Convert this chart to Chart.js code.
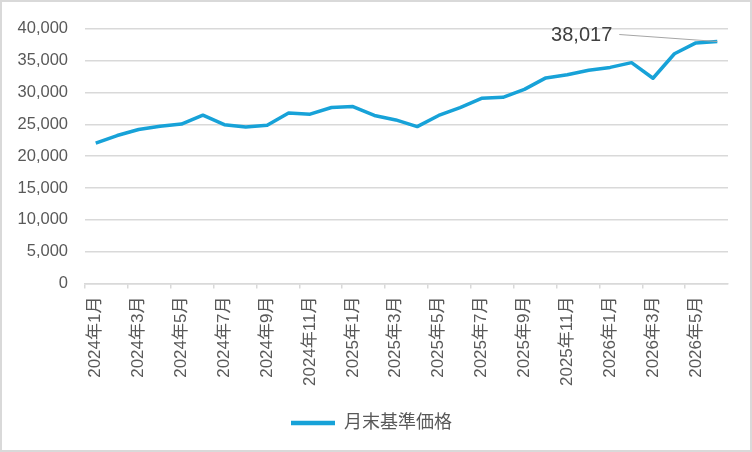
<!DOCTYPE html>
<html>
<head>
<meta charset="utf-8">
<script src="https://cdn.jsdelivr.net/npm/chart.js@4.4.1/dist/chart.umd.min.js"></script>
<style>
  html, body { margin: 0; padding: 0; background: #fff; }
  #wrap { width: 748px; height: 448px; border: 2px solid #d9d9d9; position: relative; }
</style>
</head>
<body>
<div id="wrap"><canvas id="price-chart"></canvas></div>
<script>
// 月末基準価格 (2024年1月 - 2026年6月)
const months = [
    '2024年1月', '2024年2月', '2024年3月', '2024年4月', '2024年5月', '2024年6月',
    '2024年7月', '2024年8月', '2024年9月', '2024年10月', '2024年11月', '2024年12月',
    '2025年1月', '2025年2月', '2025年3月', '2025年4月', '2025年5月', '2025年6月',
    '2025年7月', '2025年8月', '2025年9月', '2025年10月', '2025年11月', '2025年12月',
    '2026年1月', '2026年2月', '2026年3月', '2026年4月', '2026年5月', '2026年6月'
];
const navValues = [
    22050, 23250, 24200, 24700, 25050, 26450,
    24950, 24600, 24850, 26800, 26600, 27650,
    27800, 26400, 25700, 24650, 26400, 27650,
    29100, 29250, 30500, 32300, 32800, 33500,
    33950, 34700, 32250, 36100, 37800, 38017
];
const yTicks = [0, 5000, 10000, 15000, 20000, 25000, 30000, 35000, 40000];

const fontFamily = "'Liberation Sans', Arial, 'Noto Sans CJK JP', sans-serif";
const textGray = '#595959';

// label + leader line for the latest value
const lastLabel = {
    id: 'lastLabel',
    afterDatasetsDraw(chart) {
        const meta = chart.getDatasetMeta(0);
        const pt = meta.data[meta.data.length - 1];
        const val = navValues[navValues.length - 1];
        const ctx = chart.ctx;
        ctx.save();
        ctx.font = '20px ' + fontFamily;
        ctx.fillStyle = '#404040';
        ctx.textAlign = 'right';
        ctx.textBaseline = 'middle';
        const tx = pt.x - 105;
        const ty = pt.y - 6;
        ctx.fillText(val.toLocaleString('en-US'), tx, ty);
        ctx.strokeStyle = '#a6a6a6';
        ctx.lineWidth = 1.2;
        ctx.beginPath();
        ctx.moveTo(tx + 7, ty - 1);
        ctx.lineTo(pt.x, pt.y);
        ctx.stroke();
        ctx.restore();
    }
};

const ctx = document.getElementById('price-chart').getContext('2d');
const priceChart = new Chart(ctx, {
    type: 'line',
    data: {
        labels: months,
        datasets: [{
            label: '月末基準価格',
            data: navValues,
            borderColor: '#17a2d8',
            backgroundColor: '#17a2d8',
            borderWidth: 3.5,
            pointRadius: 0,
            tension: 0,
            borderJoinStyle: 'round'
        }]
    },
    options: {
        responsive: true,
        maintainAspectRatio: false,
        animation: false,
        layout: { padding: { left: 13, right: 22, top: 4, bottom: 8 } },
        plugins: {
            tooltip: { enabled: false },
            legend: {
                position: 'bottom',
                labels: {
                    color: textGray,
                    font: { family: fontFamily, size: 18 },
                    boxWidth: 44,
                    boxHeight: 0,
                    padding: 20,
                    generateLabels(chart) {
                        const ds = chart.data.datasets[0];
                        return [{
                            text: ds.label,
                            strokeStyle: ds.borderColor,
                            fillStyle: ds.borderColor,
                            lineWidth: 4.5,
                            lineCap: 'round',
                            fontColor: textGray,
                            datasetIndex: 0
                        }];
                    }
                }
            }
        },
        scales: {
            x: {
                offset: true,
                grid: {
                    offset: true,
                    drawOnChartArea: false,
                    tickLength: 5,
                    color: (c) => (c.index % 2 === 0 ? '#d9d9d9' : 'rgba(0,0,0,0)'),
                    lineWidth: 1.5
                },
                border: { color: '#d9d9d9', width: 1.5 },
                ticks: {
                    autoSkip: false,
                    maxRotation: 90,
                    minRotation: 90,
                    padding: 8,
                    color: textGray,
                    font: { family: fontFamily, size: 17 },
                    callback: (v, i) => (i % 2 === 0 ? months[i] : '')
                }
            },
            y: {
                min: 0,
                max: 40000,
                afterBuildTicks: (axis) => { axis.ticks = yTicks.map(v => ({ value: v })); },
                afterFit: (axis) => { axis.width = 70; },
                grid: { color: '#d9d9d9', lineWidth: 1.5, drawTicks: false },
                border: { display: false },
                ticks: {
                    padding: 17,
                    color: textGray,
                    font: { family: fontFamily, size: 16.5 },
                    callback: (v) => v.toLocaleString('en-US')
                }
            }
        }
    },
    plugins: [lastLabel]
});
</script>
</body>
</html>
